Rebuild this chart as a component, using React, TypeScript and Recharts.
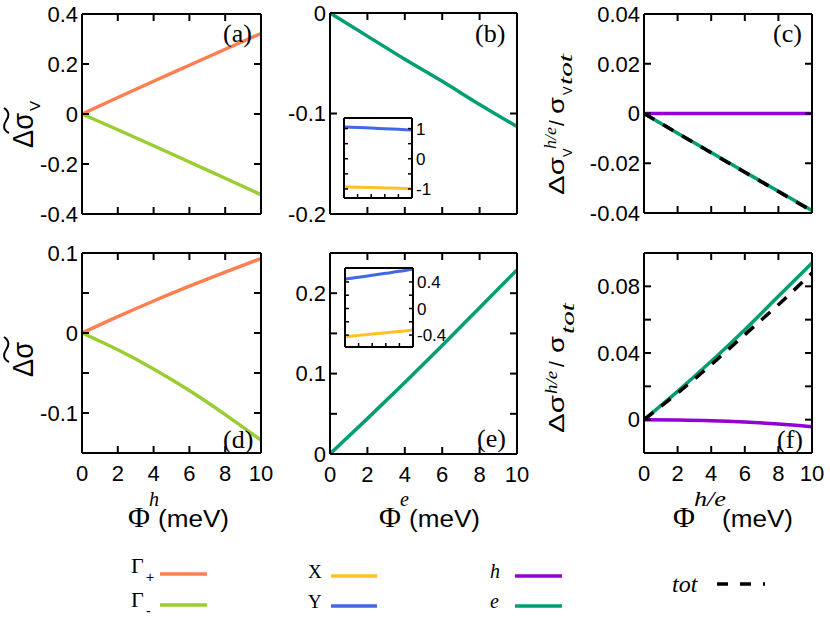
import { LineChart, Line, XAxis, YAxis } from "recharts";

// x values (meV) shared by every panel
const phi = [0, 2, 4, 6, 8, 10];
const xTicks = [0, 2, 4, 6, 8, 10];

// (a) valley-resolved Δσ_V
const aGammaPlus = [0, 0.066, 0.131, 0.195, 0.259, 0.322];
const aGammaMinus = [0, -0.063, -0.127, -0.192, -0.257, -0.323];
// (b) electron pocket, inset X / Y
const bElectron = [0, -0.023, -0.046, -0.068, -0.091, -0.113];
const bInsetY = [1.05, 1.035, 1.015, 0.995, 0.975, 0.955];
const bInsetX = [-0.93, -0.945, -0.955, -0.965, -0.978, -0.99];
// (c) relative contributions
const cHole = [0, 0, 0, 0, 0, 0];
const cElectron = [0, -0.0079, -0.0157, -0.0235, -0.0313, -0.039];
const cTotal = [0, -0.0079, -0.0158, -0.0236, -0.0314, -0.0392];
// (d) Δσ
const dGammaPlus = [0, 0.0205, 0.04, 0.0585, 0.0762, 0.093];
const dGammaMinus = [0, -0.021, -0.045, -0.072, -0.102, -0.134];
// (e) electron pocket, inset X / Y
const eElectron = [0, 0.044, 0.089, 0.135, 0.182, 0.229];
const eInsetY = [0.445, 0.47, 0.5, 0.53, 0.56, 0.595];
const eInsetX = [-0.425, -0.405, -0.385, -0.365, -0.345, -0.325];
// (f) relative contributions
const fElectron = [0, 0.017, 0.035, 0.054, 0.074, 0.094];
const fTotal = [0, 0.016, 0.033, 0.051, 0.069, 0.088];
const fHole = [0, -0.0002, -0.0006, -0.0014, -0.0026, -0.0042];

const COLORS = {
  gp: "#ff7f50",
  gm: "#9acd32",
  X: "#ffc125",
  Y: "#4169e1",
  h: "#9400d3",
  e: "#009e73",
  tot: "#000000",
};

const SANS = "'Liberation Sans', Arial, sans-serif";
const SERIF = "'Liberation Serif', 'Times New Roman', serif";

type Series = { key: string; color: string; dash?: string; width?: number };

function rows(cols: Record<string, number[]>) {
  return phi.map((x, i) => {
    const r: Record<string, number> = { x };
    for (const k of Object.keys(cols)) r[k] = cols[k][i];
    return r;
  });
}

const frame = { stroke: "#000", strokeWidth: 2 };

// invisible series so the mirror axes (top / right) get their ticks
function ghost(key: string, xId: string, yId: string) {
  return (
    <Line
      key={"ghost-" + xId + yId}
      xAxisId={xId}
      yAxisId={yId}
      dataKey={key}
      stroke="transparent"
      strokeWidth={0}
      dot={false}
      activeDot={false}
      legendType="none"
      isAnimationActive={false}
    />
  );
}

function Panel(props: {
  left: number;
  top: number;
  width: number;
  height: number;
  data: Record<string, number>[];
  series: Series[];
  yDomain: [number, number];
  yTicks: number[];
  yLabels: number[];
  showX: boolean;
}) {
  const { left, top, width, height, data, series, yDomain, yTicks, yLabels, showX } = props;
  const ml = 80;
  const mt = 20;
  const mb = 40;
  const mr = 22;
  const fmtY = (v: number) => (yLabels.includes(v) ? String(v) : "");
  const tickStyle = { fill: "#000", fontSize: 22, fontFamily: SANS };
  return (
    <div style={{ position: "absolute", left: left - ml, top: top - mt }}>
      <LineChart
        width={width + ml + mr}
        height={height + mt + mb}
        data={data}
        margin={{ top: mt - 1, right: mr - 1, bottom: 0, left: 0 }}
      >
        <XAxis
          xAxisId="b"
          dataKey="x"
          type="number"
          domain={[0, 10]}
          ticks={xTicks}
          interval={0}
          height={mb}
          axisLine={frame}
          tickLine={frame}
          tickSize={-7}
          tickMargin={19}
          tick={tickStyle}
          tickFormatter={(v: number) => (showX ? String(v) : "")}
        />
        <XAxis
          xAxisId="t"
          orientation="top"
          dataKey="x"
          type="number"
          domain={[0, 10]}
          ticks={xTicks}
          interval={0}
          height={1}
          axisLine={frame}
          tickLine={frame}
          tickSize={-7}
          tick={tickStyle}
          tickFormatter={() => ""}
        />
        <YAxis
          yAxisId="l"
          type="number"
          domain={yDomain}
          ticks={yTicks}
          interval={0}
          width={ml}
          axisLine={frame}
          tickLine={frame}
          tickSize={-7}
          tickMargin={11}
          tick={tickStyle}
          tickFormatter={fmtY}
        />
        <YAxis
          yAxisId="r"
          orientation="right"
          type="number"
          domain={yDomain}
          ticks={yTicks}
          interval={0}
          width={1}
          axisLine={frame}
          tickLine={frame}
          tickSize={-7}
          tick={tickStyle}
          tickFormatter={() => ""}
        />
        {ghost(series[0].key, "t", "r")}
        {series.map((s) => (
          <Line
            key={s.key}
            xAxisId="b"
            yAxisId="l"
            dataKey={s.key}
            type="monotone"
            stroke={s.color}
            strokeWidth={s.width ?? 3.5}
            strokeDasharray={s.dash}
            dot={false}
            activeDot={false}
            isAnimationActive={false}
          />
        ))}
      </LineChart>
    </div>
  );
}

function Inset(props: {
  left: number;
  top: number;
  width: number;
  height: number;
  data: Record<string, number>[];
  series: Series[];
  yDomain: [number, number];
  yTicks: number[];
  yLabels: number[];
}) {
  const { left, top, width, height, data, series, yDomain, yTicks, yLabels } = props;
  const mr = 50;
  const mt = 10;
  const thin = { stroke: "#000", strokeWidth: 1.5 };
  const tickStyle = { fill: "#000", fontSize: 17, fontFamily: SANS };
  return (
    <div style={{ position: "absolute", left: left - 1, top: top - mt - 1 }}>
      <LineChart
        width={width + 1 + mr}
        height={height + 2 + 2 * mt}
        data={data}
        margin={{ top: mt, right: 0, bottom: mt, left: 0 }}
      >
        <XAxis
          xAxisId="b"
          dataKey="x"
          type="number"
          domain={[0, 10]}
          ticks={xTicks}
          interval={0}
          height={1}
          axisLine={frame}
          tickLine={thin}
          tickSize={-4}
          tick={tickStyle}
          tickFormatter={() => ""}
        />
        <XAxis
          xAxisId="t"
          orientation="top"
          dataKey="x"
          type="number"
          domain={[0, 10]}
          ticks={xTicks}
          interval={0}
          height={1}
          axisLine={frame}
          tickLine={false}
          tick={tickStyle}
          tickFormatter={() => ""}
        />
        <YAxis
          yAxisId="l"
          type="number"
          domain={yDomain}
          ticks={yTicks}
          interval={0}
          width={1}
          axisLine={frame}
          tickLine={thin}
          tickSize={-4}
          tick={tickStyle}
          tickFormatter={() => ""}
        />
        <YAxis
          yAxisId="r"
          orientation="right"
          type="number"
          domain={yDomain}
          ticks={yTicks}
          interval={0}
          width={mr}
          axisLine={frame}
          tickLine={thin}
          tickSize={-4}
          tickMargin={8}
          tick={tickStyle}
          tickFormatter={(v: number) => (yLabels.includes(v) ? String(v) : "")}
        />
        {ghost(series[0].key, "t", "l")}
        {series.map((s) => (
          <Line
            key={s.key}
            xAxisId="b"
            yAxisId="r"
            dataKey={s.key}
            type="monotone"
            stroke={s.color}
            strokeWidth={3}
            dot={false}
            activeDot={false}
            isAnimationActive={false}
          />
        ))}
      </LineChart>
    </div>
  );
}

function Tilde() {
  return (
    <path
      d="M15,-24 C18,-30 23,-30 27,-27 C31,-24 36,-23 40,-29"
      fill="none"
      stroke="#000"
      strokeWidth={2}
    />
  );
}

function XTitle({ x, sup, supLen }: { x: number; sup: string; supLen?: number }) {
  return (
    <g>
      <text x={x} y={527} fontFamily={SERIF} fontSize={30}>
        Φ
      </text>
      <text
        x={x + 21}
        y={506}
        fontFamily={SERIF}
        fontStyle="italic"
        fontSize={20}
        textLength={supLen}
        lengthAdjust="spacingAndGlyphs"
      >
        {sup}
      </text>
      <text
        x={x + (sup.length > 1 ? 49 : 30)}
        y={527}
        fontFamily={SANS}
        fontSize={23}
        textLength={71}
        lengthAdjust="spacingAndGlyphs"
      >
        (meV)
      </text>
    </g>
  );
}

function Overlay() {
  const panelLabel = { fontFamily: SERIF, fontSize: 26 };
  const it = { fontFamily: SERIF, fontStyle: "italic" as const };
  return (
    <svg
      width={830}
      height={618}
      style={{ position: "absolute", left: 0, top: 0, pointerEvents: "none" }}
    >
      {/* panel tags */}
      <text x={223} y={42} {...panelLabel}>(a)</text>
      <text x={475} y={42} {...panelLabel}>(b)</text>
      <text x={773} y={42} {...panelLabel}>(c)</text>
      <text x={223} y={448} {...panelLabel}>(d)</text>
      <text x={477} y={447} {...panelLabel}>(e)</text>
      <text x={777} y={448} {...panelLabel}>(f)</text>

      {/* y titles */}
      <g transform="translate(33,148) rotate(-90)">
        <text x={0} y={0} fontFamily={SANS} fontSize={29} textLength={35} lengthAdjust="spacingAndGlyphs">
          Δσ
        </text>
        <text x={37} y={7} fontFamily={SANS} fontSize={15}>V</text>
        <Tilde />
      </g>
      <g transform="translate(33,377) rotate(-90)">
        <text x={0} y={0} fontFamily={SANS} fontSize={29} textLength={35} lengthAdjust="spacingAndGlyphs">
          Δσ
        </text>
        <Tilde />
      </g>
      <g transform="translate(564,195) rotate(-90)">
        <text x={0} y={0} fontFamily={SANS} fontSize={22} textLength={38} lengthAdjust="spacingAndGlyphs">
          Δσ
        </text>
        <text x={38} y={8} fontFamily={SANS} fontSize={13}>V</text>
        <text x={46} y={-8} {...it} fontSize={17} textLength={22} lengthAdjust="spacingAndGlyphs">
          h/e
        </text>
        <text x={69} y={0} fontFamily={SANS} fontSize={21}>/</text>
        <text x={81} y={0} fontFamily={SANS} fontSize={22} textLength={17} lengthAdjust="spacingAndGlyphs">
          σ
        </text>
        <text x={100} y={8} fontFamily={SANS} fontSize={13}>V</text>
        <text x={110} y={8} {...it} fontSize={18} textLength={31} lengthAdjust="spacingAndGlyphs">
          tot
        </text>
      </g>
      <g transform="translate(564,433) rotate(-90)">
        <text x={0} y={0} fontFamily={SANS} fontSize={22} textLength={38} lengthAdjust="spacingAndGlyphs">
          Δσ
        </text>
        <text x={39} y={-7} {...it} fontSize={17} textLength={23} lengthAdjust="spacingAndGlyphs">
          h/e
        </text>
        <text x={66} y={0} fontFamily={SANS} fontSize={21}>/</text>
        <text x={80} y={0} fontFamily={SANS} fontSize={22} textLength={17} lengthAdjust="spacingAndGlyphs">
          σ
        </text>
        <text x={99} y={10} {...it} fontSize={18} textLength={31} lengthAdjust="spacingAndGlyphs">
          tot
        </text>
      </g>

      {/* x titles */}
      <XTitle x={128} sup="h" />
      <XTitle x={379} sup="e" />
      <XTitle x={673} sup="h/e" supLen={32} />

      {/* legend */}
      <text x={131} y={573} fontFamily={SERIF} fontSize={22}>Γ</text>
      <text x={146} y={582} fontFamily={SANS} fontSize={14}>+</text>
      <line x1={160} x2={207} y1={574} y2={574} stroke={COLORS.gp} strokeWidth={3.5} />
      <text x={131} y={607} fontFamily={SERIF} fontSize={22}>Γ</text>
      <text x={146} y={616} fontFamily={SANS} fontSize={14}>-</text>
      <line x1={160} x2={207} y1={605} y2={605} stroke={COLORS.gm} strokeWidth={3.5} />

      <text x={308} y={578} fontFamily={SERIF} fontSize={19}>X</text>
      <line x1={331} x2={377} y1={576} y2={576} stroke={COLORS.X} strokeWidth={3.5} />
      <text x={308} y={608} fontFamily={SERIF} fontSize={19}>Y</text>
      <line x1={331} x2={377} y1={606} y2={606} stroke={COLORS.Y} strokeWidth={3.5} />

      <text x={490} y={578} {...it} fontSize={20}>h</text>
      <line x1={515} x2={562} y1={576} y2={576} stroke={COLORS.h} strokeWidth={3.5} />
      <text x={490} y={608} {...it} fontSize={20}>e</text>
      <line x1={515} x2={562} y1={606} y2={606} stroke={COLORS.e} strokeWidth={3.5} />

      <text x={672} y={592} {...it} fontSize={24}>tot</text>
      <line x1={717} x2={765} y1={584} y2={584} stroke="#000" strokeWidth={3.5} strokeDasharray="11 12" />
    </svg>
  );
}

export default function App() {
  return (
    <div
      style={{
        position: "absolute",
        left: 0,
        top: 0,
        width: 830,
        height: 618,
        background: "#fff",
        overflow: "hidden",
      }}
    >
      <Panel
        left={82}
        top={14}
        width={179}
        height={200}
        data={rows({ gp: aGammaPlus, gm: aGammaMinus })}
        series={[
          { key: "gp", color: COLORS.gp },
          { key: "gm", color: COLORS.gm },
        ]}
        yDomain={[-0.4, 0.4]}
        yTicks={[-0.4, -0.2, 0, 0.2, 0.4]}
        yLabels={[-0.4, -0.2, 0, 0.2, 0.4]}
        showX={false}
      />
      <Panel
        left={330}
        top={13}
        width={187}
        height={201}
        data={rows({ e: bElectron })}
        series={[{ key: "e", color: COLORS.e }]}
        yDomain={[-0.2, 0]}
        yTicks={[-0.2, -0.1, 0]}
        yLabels={[-0.2, -0.1, 0]}
        showX={false}
      />
      <Inset
        left={344}
        top={118}
        width={68}
        height={80}
        data={rows({ Y: bInsetY, X: bInsetX })}
        series={[
          { key: "Y", color: COLORS.Y },
          { key: "X", color: COLORS.X },
        ]}
        yDomain={[-1.3, 1.35]}
        yTicks={[-1, -0.5, 0, 0.5, 1]}
        yLabels={[-1, 0, 1]}
      />
      <Panel
        left={644}
        top={14}
        width={168}
        height={199}
        data={rows({ h: cHole, e: cElectron, tot: cTotal })}
        series={[
          { key: "h", color: COLORS.h },
          { key: "e", color: COLORS.e },
          { key: "tot", color: COLORS.tot, dash: "12 10" },
        ]}
        yDomain={[-0.04, 0.04]}
        yTicks={[-0.04, -0.02, 0, 0.02, 0.04]}
        yLabels={[-0.04, -0.02, 0, 0.02, 0.04]}
        showX={false}
      />
      <Panel
        left={82}
        top={253}
        width={179}
        height={200}
        data={rows({ gp: dGammaPlus, gm: dGammaMinus })}
        series={[
          { key: "gp", color: COLORS.gp },
          { key: "gm", color: COLORS.gm },
        ]}
        yDomain={[-0.15, 0.1]}
        yTicks={[-0.15, -0.1, -0.05, 0, 0.05, 0.1]}
        yLabels={[-0.1, 0, 0.1]}
        showX
      />
      <Panel
        left={330}
        top={253}
        width={187}
        height={201}
        data={rows({ e: eElectron })}
        series={[{ key: "e", color: COLORS.e }]}
        yDomain={[0, 0.25]}
        yTicks={[0, 0.05, 0.1, 0.15, 0.2, 0.25]}
        yLabels={[0, 0.1, 0.2]}
        showX
      />
      <Inset
        left={345}
        top={268}
        width={68}
        height={79}
        data={rows({ Y: eInsetY, X: eInsetX })}
        series={[
          { key: "Y", color: COLORS.Y },
          { key: "X", color: COLORS.X },
        ]}
        yDomain={[-0.58, 0.61]}
        yTicks={[-0.4, -0.2, 0, 0.2, 0.4]}
        yLabels={[-0.4, 0, 0.4]}
      />
      <Panel
        left={644}
        top={253}
        width={168}
        height={200}
        data={rows({ h: fHole, e: fElectron, tot: fTotal })}
        series={[
          { key: "h", color: COLORS.h },
          { key: "e", color: COLORS.e },
          { key: "tot", color: COLORS.tot, dash: "12 10" },
        ]}
        yDomain={[-0.02, 0.1]}
        yTicks={[-0.02, 0, 0.02, 0.04, 0.06, 0.08, 0.1]}
        yLabels={[0, 0.04, 0.08]}
        showX
      />
      <Overlay />
    </div>
  );
}
